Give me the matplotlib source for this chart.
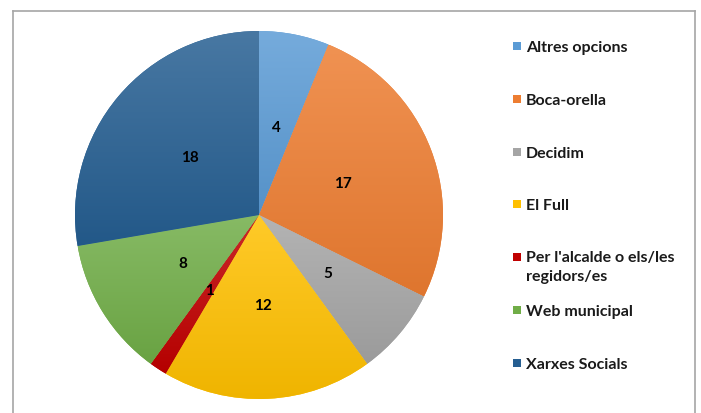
import numpy as np
import matplotlib
matplotlib.use("Agg")
import matplotlib.pyplot as plt
from matplotlib.colors import to_rgb
from matplotlib.patches import Rectangle
from matplotlib.lines import Line2D

categories = ["Altres opcions", "Boca-orella", "Decidim", "El Full",
              "Per l'alcalde o els/les\nregidors/es", "Web municipal", "Xarxes Socials"]
values = [4, 17, 5, 12, 1, 8, 18]
colors = ["#5B9BD5", "#ED7D31", "#A5A5A5", "#FFC000", "#C00000", "#70AD47", "#255E91"]

W, H = 701, 414
fig = plt.figure(figsize=(W / 100, H / 100), dpi=100)
FONT = "Lato"

# pie axes: center (259,216) px, radius 184 px
cx, cy, R = 259, 216, 184
ax = fig.add_axes([(cx - R) / W, (H - cy - R) / H, 2 * R / W, 2 * R / H])
wedges, texts = ax.pie(values, colors=colors, startangle=90, counterclock=False,
                       labels=[str(v) for v in values], labeldistance=0.49,
                       wedgeprops=dict(linewidth=0),
                       textprops=dict(fontsize=11, fontweight="bold", family=FONT,
                                      color="black", ha="center", va="center"))
ax.set_xlim(-1, 1)
ax.set_ylim(-1, 1)
ax.set_aspect("equal")
ax.axis("off")


def shade(c, f):
    c = np.array(to_rgb(c))
    if f >= 0:
        return c + (1 - c) * f
    return c * (1 + f)


for w, c in zip(wedges, colors):
    w.set_clip_on(False)
    ext = w.get_path().get_extents()
    top, bot = shade(c, 0.16), shade(c, -0.06)
    t = np.linspace(0, 1, 64)[:, None]
    grad = (top[None, :] * (1 - t) + bot[None, :] * t)[:, None, :]
    im = ax.imshow(grad, extent=(ext.x0, ext.x1, ext.y0, ext.y1), origin="upper",
                   aspect="auto", interpolation="bilinear", zorder=w.get_zorder() + 0.1)
    im.set_clip_path(w)
for t in texts:
    t.set_zorder(5)
ax.set_xlim(-1, 1)
ax.set_ylim(-1, 1)

# legend (manual layout, Excel style)
y0, dy = 47, 52.8
line_h = 18
for i, (lab, c) in enumerate(zip(categories, colors)):
    yc = y0 + i * dy
    nlines = lab.count("\n")
    fig.add_artist(Rectangle((512.5 / W, 1 - (yc + 4) / H), 8 / W, 8 / H,
                             transform=fig.transFigure, facecolor=c, edgecolor="none"))
    fig.text(526 / W, 1 - (yc + 5 + nlines * line_h) / H, lab, fontsize=11.5,
             fontweight="bold", family=FONT, color="#1a1a1a", ha="left", va="baseline",
             linespacing=1.5)

# frame
fc = "#A6A6A6"
fig.add_artist(Line2D([12.5 / W, 12.5 / W], [0, 1 - 11.5 / H], color=fc, lw=1.2,
                      transform=fig.transFigure))
fig.add_artist(Line2D([12.5 / W, 694.5 / W], [1 - 11.5 / H, 1 - 11.5 / H], color=fc, lw=1.2,
                      transform=fig.transFigure))
fig.add_artist(Line2D([694.5 / W, 694.5 / W], [0, 1 - 11.5 / H], color=fc, lw=1.2,
                      transform=fig.transFigure))

fig.savefig("out.png", dpi=100)
